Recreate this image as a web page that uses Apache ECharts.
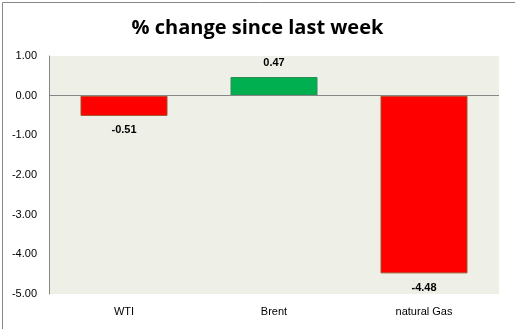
<!DOCTYPE html>
<html><head><meta charset="utf-8">
<script src="https://cdn.jsdelivr.net/npm/echarts@6/dist/echarts.min.js"></script>
<style>html,body{margin:0;padding:0;background:#fff}#c{width:515px;height:329px}</style>
</head><body><div id="c"></div>
<script>
const categories = ['WTI', 'Brent', 'natural Gas'];
const changes = [-0.51, 0.47, -4.48];
const yTicks = { min: -5, max: 1, step: 1 };
const title = '% change since last week';

const chart = echarts.init(document.getElementById('c'), null, {renderer: 'canvas'});
chart.setOption({
  animation: false,
  backgroundColor: '#ffffff',
  title: {
    text: title, left: 'center', top: 13,
    textStyle: { fontFamily: 'Open Sans', fontWeight: 'bold', fontSize: 20, color: '#000' }
  },
  graphic: [{
    type: 'rect', left: 0, top: 0, z: 100,
    shape: { width: 514, height: 328 },
    style: { fill: 'none', stroke: '#888', lineWidth: 1 }
  }],
  grid: { left: 49, right: 16, top: 56, bottom: 35, show: true, backgroundColor: '#eef0e8', borderWidth: 0 },
  xAxis: {
    type: 'category', data: categories,
    axisLine: { show: false }, axisTick: { show: false },
    axisLabel: { fontFamily: 'Liberation Sans', fontSize: 11, color: '#000', margin: 12 }
  },
  yAxis: {
    type: 'value', min: yTicks.min, max: yTicks.max, interval: yTicks.step,
    axisLine: { show: true, lineStyle: { color: '#868686' } },
    axisTick: { show: false }, splitLine: { show: false },
    axisLabel: { fontFamily: 'Liberation Sans', fontSize: 11, color: '#000', margin: 12,
      formatter: v => v.toFixed(2) }
  },
  series: [{
    type: 'bar', barWidth: '58%',
    data: changes.map(v => ({
      value: v,
      itemStyle: { color: v >= 0 ? '#00b050' : '#ff0000', borderColor: v >= 0 ? '#2e8b57' : '#a0522d', borderWidth: 1 },
      label: { position: v >= 0 ? 'top' : 'bottom' }
    })),
    label: { show: true, fontFamily: 'Liberation Sans', fontWeight: 'bold', fontSize: 11, color: '#000', distance: 9,
      formatter: p => p.value.toFixed(2) },
    markLine: { silent: true, symbol: 'none', label: { show: false },
      lineStyle: { color: '#868686', type: 'solid', width: 1 }, data: [{ yAxis: 0 }] }
  }]
});
</script></body></html>
